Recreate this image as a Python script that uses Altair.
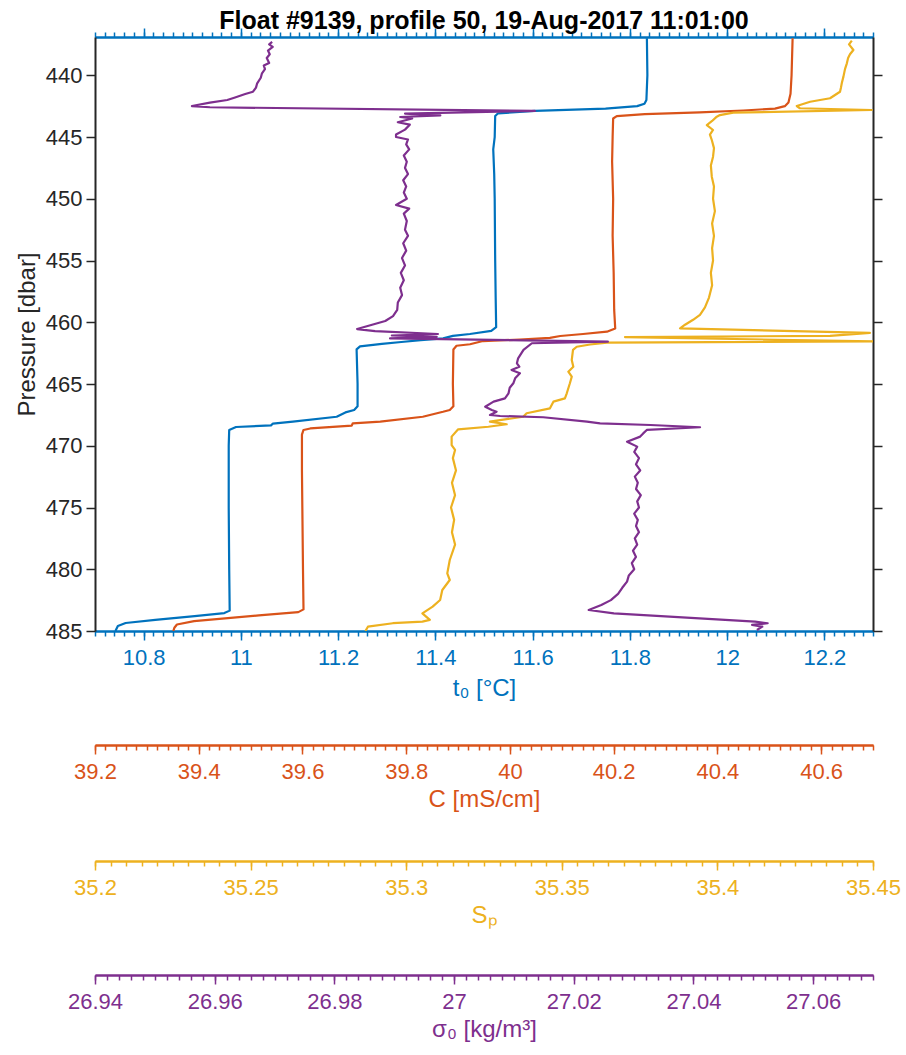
import altair as alt
import pandas as pd

# ---------------- data ----------------
# Blue: potential temperature t0 [degC] vs pressure [dbar]
t0_p = [437.0, 440.0, 442.0, 442.3, 442.5, 442.7, 442.89, 443.08, 443.3, 445.0, 446.0, 448.0,
        450.0, 455.0, 458.0, 460.4, 460.7, 460.95, 461.1, 461.3, 461.45, 461.6, 461.75, 461.95,
        462.2, 465.0, 466.8, 467.1, 467.3, 467.65, 468.05, 468.2, 468.35, 468.48, 468.72, 470.0,
        475.0, 480.0, 483.35, 483.55, 483.8, 484.1, 484.35, 484.6, 485.0]
t0_v = [11.835, 11.836, 11.834, 11.830, 11.815, 11.750, 11.605, 11.529, 11.523, 11.522, 11.519, 11.521,
        11.522, 11.523, 11.524, 11.525, 11.515, 11.471, 11.436, 11.416, 11.370, 11.330, 11.290, 11.245,
        11.238, 11.240, 11.240, 11.233, 11.215, 11.197, 11.107, 11.066, 11.062, 10.990, 10.976, 10.975,
        10.975, 10.976, 10.977, 10.966, 10.905, 10.824, 10.763, 10.747, 10.742]

# Orange: conductivity C [mS/cm]
c_p = [437.0, 440.0, 441.5, 442.2, 442.5, 442.7, 442.85, 443.0, 443.15, 443.3, 443.5, 445.0, 447.0,
       450.0, 453.0, 456.0, 459.0, 460.5, 460.76, 460.95, 461.11, 461.27, 461.4, 461.52, 461.78,
       461.9, 462.2, 465.0, 466.8, 467.1, 467.25, 467.65, 468.05, 468.18, 468.37, 468.6, 468.72,
       469.1, 472.0, 476.0, 480.0, 483.25, 483.47, 483.74, 484.2, 484.47, 484.74, 485.0]
c_v = [40.545, 40.543, 40.541, 40.537, 40.530, 40.511, 40.450, 40.366, 40.260, 40.206, 40.199, 40.198, 40.197,
       40.199, 40.198, 40.200, 40.201, 40.203, 40.187, 40.141, 40.097, 40.077, 40.019, 39.948, 39.923,
       39.897, 39.891, 39.890, 39.891, 39.884, 39.871, 39.832, 39.750, 39.697, 39.695, 39.615, 39.602,
       39.599, 39.599, 39.600, 39.601, 39.602, 39.592, 39.516, 39.391, 39.358, 39.353, 39.351]

# Yellow: practical salinity S_P
sp_p = [437.2, 437.5, 437.95, 438.3, 438.6, 439.03, 439.5, 440.11, 440.6, 441.0, 441.33, 441.86,
        442.14, 442.49, 442.67, 442.81, 443.03, 443.22, 443.35, 443.7, 444.03, 444.43, 444.8, 445.24,
        445.9, 446.59, 447.3, 448.21, 449.0, 450.0, 451.0, 452.0, 453.0, 454.0, 455.0, 456.0, 457.0,
        458.0, 458.8, 459.4, 459.8, 460.2, 460.5, 460.86, 461.1, 461.2, 461.55, 461.65, 461.8,
        461.98, 462.24, 463.05, 463.6, 464.0, 464.41, 464.94, 465.75, 466.16, 466.43, 466.97, 467.37,
        467.65, 468.05, 468.26, 468.46, 468.67, 469.26, 469.94, 470.34, 471.0, 472.0, 473.0, 474.0,
        475.0, 476.0, 477.0, 478.0, 479.25, 480.33, 480.87, 481.68, 482.49, 483.03, 483.57, 484.1,
        484.24, 484.37, 484.65, 485.0]
sp_v = [35.4432, 35.4423, 35.4437, 35.4426, 35.4420, 35.4416, 35.4410, 35.4405, 35.4400, 35.4397, 35.4394, 35.4362,
        35.4298, 35.4255, 35.4265, 35.4496, 35.4051, 35.4008, 35.3998, 35.3983, 35.3966, 35.3986, 35.3976, 35.3982,
        35.3989, 35.3986, 35.3979, 35.3982, 35.3989, 35.3986, 35.3992, 35.3983, 35.3989, 35.3983, 35.3986, 35.3979, 35.3983,
        35.3973, 35.3960, 35.3944, 35.3922, 35.3896, 35.3880, 35.4490, 35.4362, 35.3703, 35.4500, 35.3645, 35.3591,
        35.3548, 35.3536, 35.3532, 35.3537, 35.3521, 35.3532, 35.3526, 35.3516, 35.3510, 35.3473, 35.3462, 35.3387,
        35.3376, 35.3269, 35.3323, 35.3264, 35.3167, 35.3146, 35.3146, 35.3157, 35.3150, 35.3160, 35.3147, 35.3157,
        35.3144, 35.3154, 35.3147, 35.3157, 35.3140, 35.3132, 35.3140, 35.3116, 35.3109, 35.3085, 35.3052, 35.3076,
        35.3052, 35.2957, 35.2877, 35.2869]

# Purple: potential density anomaly sigma0 [kg/m^3]
s0_p = [437.3, 437.5, 437.7, 438.0, 438.3, 438.6, 439.0, 439.2, 439.5, 439.84, 440.2, 440.65, 441.0,
        441.33, 441.52, 441.8, 442.0, 442.22, 442.49, 442.59, 442.89, 443.1, 443.25, 443.38, 443.5,
        443.8, 444.0, 444.4, 444.8, 445.0, 445.2, 445.6, 446.0, 446.5, 447.0, 447.5, 448.0, 448.5,
        449.0, 449.5, 450.0, 450.5, 450.8, 451.2, 451.8, 452.5, 453.0, 453.6, 454.2, 454.8, 455.4,
        456.0, 456.6, 457.2, 457.8, 458.4, 459.0, 459.5, 459.9, 460.2, 460.55, 460.71, 460.95, 461.07,
        461.19, 461.31, 461.57, 461.7, 462.24, 462.92, 463.32, 463.6, 463.86, 464.13, 464.54, 464.94,
        465.3, 465.75, 466.16, 466.43, 466.84, 467.1, 467.24, 467.51, 467.59, 467.69, 468.05, 468.18,
        468.32, 468.5, 468.72, 469.0, 469.26, 469.67, 470.07, 470.5, 471.0, 471.5, 472.0, 472.5, 473.0,
        473.5, 474.0, 474.5, 475.0, 475.5, 476.0, 476.5, 477.0, 477.5, 478.0, 478.5, 479.0, 479.5,
        480.0, 480.5, 481.0, 481.5, 482.0, 482.5, 482.9, 483.3, 483.57, 484.24, 484.37, 484.5, 484.65,
        484.92]
s0_v = [26.9696, 26.9691, 26.9697, 26.9689, 26.9692, 26.9687, 26.9691, 26.9682, 26.9684, 26.9679, 26.9677, 26.9671, 26.9669,
        26.9664, 26.9651, 26.9634, 26.9621, 26.9592, 26.9562, 26.9592, 27.0135, 26.9918, 26.9977, 26.9910, 26.9930,
        26.9906, 26.9926, 26.9918, 26.9903, 26.9903, 26.9923, 26.9920, 26.9925, 26.9916, 26.9921, 26.9918, 26.9923, 26.9915,
        26.9920, 26.9916, 26.9921, 26.9903, 26.9925, 26.9916, 26.9921, 26.9918, 26.9923, 26.9915, 26.9920, 26.9913, 26.9918,
        26.9911, 26.9916, 26.9910, 26.9913, 26.9906, 26.9905, 26.9898, 26.9885, 26.9863, 26.9838, 26.9868, 26.9973, 26.9896,
        26.9971, 26.9893, 27.0257, 27.0130, 27.0116, 27.0107, 27.0105, 27.0109, 27.0096, 27.0110, 27.0102, 27.0099,
        27.0093, 27.0091, 27.0085, 27.0066, 27.0052, 27.0063, 27.0071, 27.0060, 27.0077, 27.0149, 27.0222, 27.0244,
        27.0328, 27.0411, 27.0322, 27.0316, 27.0311, 27.0289, 27.0306, 27.0301, 27.0309, 27.0304, 27.0311, 27.0302, 27.0307,
        27.0304, 27.0312, 27.0306, 27.0309, 27.0301, 27.0307, 27.0304, 27.0309, 27.0302, 27.0306, 27.0299, 27.0304, 27.0297,
        27.0301, 27.0292, 27.0289, 27.0281, 27.0274, 27.0262, 27.0246, 27.0225, 27.0267, 27.0503, 27.0524, 27.0498, 27.0515,
        27.0506]

# axis ticks
y_ticks = [440, 445, 450, 455, 460, 465, 470, 475, 480, 485]
t0_major = [10.8, 11.0, 11.2, 11.4, 11.6, 11.8, 12.0, 12.2]
c_major = [39.2, 39.4, 39.6, 39.8, 40.0, 40.2, 40.4, 40.6]
sp_major = [35.2, 35.25, 35.3, 35.35, 35.4, 35.45]
s0_major = [26.94, 26.96, 26.98, 27.0, 27.02, 27.04, 27.06]

t0_domain = [10.7, 12.3]
c_domain = [39.2, 40.7]
sp_domain = [35.2, 35.45]
s0_domain = [26.94, 27.07]
p_domain = [436.9, 485.0]

def minor(lo, hi, step, nd):
    n = int(round((hi - lo) / step))
    return [round(lo + k * step, nd) for k in range(n + 1)]

t0_minor = minor(10.7, 12.3, 0.02, 3)
c_minor = minor(39.2, 40.7, 0.02, 3)
sp_minor = minor(35.2, 35.45, 0.005, 4)
s0_minor = minor(26.94, 27.07, 0.002, 4)

# ---------------- styling ----------------
W, H = 778, 594
FONT = "Liberation Sans"
BLUE, ORANGE, YELLOW, PURPLE, DARK = "#0072BD", "#D95319", "#EDB120", "#7E2F8E", "#262626"
LABEL_FS, TITLE_FS = 22, 24


def frame(p, v):
    return pd.DataFrame({"p": p, "v": v, "i": list(range(len(p)))})


def x_axis(color, values, orient, offset, labels, title, tick, title_pad=5):
    kw = dict(orient=orient, offset=offset, values=values, labels=labels, grid=False,
              domainColor=color, domainWidth=2, tickColor=color, tickWidth=1.5, tickSize=tick,
              labelColor=color, labelFont=FONT, labelFontSize=LABEL_FS, labelPadding=7,
              labelFlush=False, labelOverlap=False, format="~g",
              title=title, titleColor=color, titleFont=FONT, titleFontSize=TITLE_FS,
              titleFontWeight="normal", titlePadding=title_pad)
    return alt.Axis(**kw)


y_left = alt.Axis(orient="left", values=y_ticks, grid=False, domainColor=DARK, domainWidth=2,
                  tickColor=DARK, tickWidth=1.5, tickSize=9, labelColor=DARK, labelFont=FONT,
                  labelFontSize=LABEL_FS, labelPadding=4, labelFlush=False, title="Pressure [dbar]",
                  titleColor=DARK, titleFont=FONT, titleFontSize=TITLE_FS, titleFontWeight="normal",
                  titlePadding=6)
y_right = alt.Axis(orient="right", values=y_ticks, grid=False, domainColor=DARK, domainWidth=2,
                   tickColor=DARK, tickWidth=1.5, tickSize=9, labels=False, title="")


def layer(data, color, xdomain, xaxis, yaxis=None, visible=True):
    mark = alt.Chart(data).mark_line(color=color, strokeWidth=2.2, clip=True,
                                     strokeJoin="round", opacity=1 if visible else 0)
    enc = dict(
        x=alt.X("v:Q", scale=alt.Scale(domain=xdomain, nice=False, zero=False), axis=xaxis),
        order=alt.Order("i:Q"),
    )
    yscale = alt.Scale(domain=p_domain, reverse=True, nice=False, zero=False)
    if yaxis is None:
        enc["y"] = alt.Y("p:Q", scale=yscale, axis=None)
    else:
        enc["y"] = alt.Y("p:Q", scale=yscale, axis=yaxis)
    return mark.encode(**enc)


d_t0, d_c, d_sp, d_s0 = frame(t0_p, t0_v), frame(c_p, c_v), frame(sp_p, sp_v), frame(s0_p, s0_v)

layers = [
    layer(d_t0, BLUE, t0_domain, x_axis(BLUE, t0_major, "bottom", 0, True, "t₀ [°C]", 9, 8), y_left),
    layer(d_t0, BLUE, t0_domain, x_axis(BLUE, t0_minor, "bottom", 0, False, "", 5), y_right, visible=False),
    layer(d_t0, BLUE, t0_domain, x_axis(BLUE, t0_major, "top", 0, False, "", 9), visible=False),
    layer(d_t0, BLUE, t0_domain, x_axis(BLUE, t0_minor, "top", 0, False, "", 5), visible=False),
    layer(d_c, ORANGE, c_domain, x_axis(ORANGE, c_major, "bottom", 114, True, "C [mS/cm]", 9)),
    layer(d_c, ORANGE, c_domain, x_axis(ORANGE, c_minor, "bottom", 114, False, "", 5), visible=False),
    layer(d_sp, YELLOW, sp_domain, x_axis(YELLOW, sp_major, "bottom", 230, True, "Sₚ", 9)),
    layer(d_sp, YELLOW, sp_domain, x_axis(YELLOW, sp_minor, "bottom", 230, False, "", 5), visible=False),
    layer(d_s0, PURPLE, s0_domain, x_axis(PURPLE, s0_major, "bottom", 344, True, "σ₀ [kg/m³]", 9)),
    layer(d_s0, PURPLE, s0_domain, x_axis(PURPLE, s0_minor, "bottom", 344, False, "", 5), visible=False),
]

chart = alt.layer(*layers).resolve_scale(x="independent", y="independent").properties(
    width=W, height=H,
    title=alt.Title("Float #9139, profile 50, 19-Aug-2017 11:01:00", font=FONT, fontSize=25,
                    fontWeight="bold", color="#000000", anchor="middle", offset=-7),
    padding={"left": 95, "top": 37, "right": 33, "bottom": 424},
    autosize=alt.AutoSizeParams(type="none"),
).configure_view(stroke=None).configure(background="white")

chart.save("out.html", embed_options={"renderer": "svg", "actions": False})
